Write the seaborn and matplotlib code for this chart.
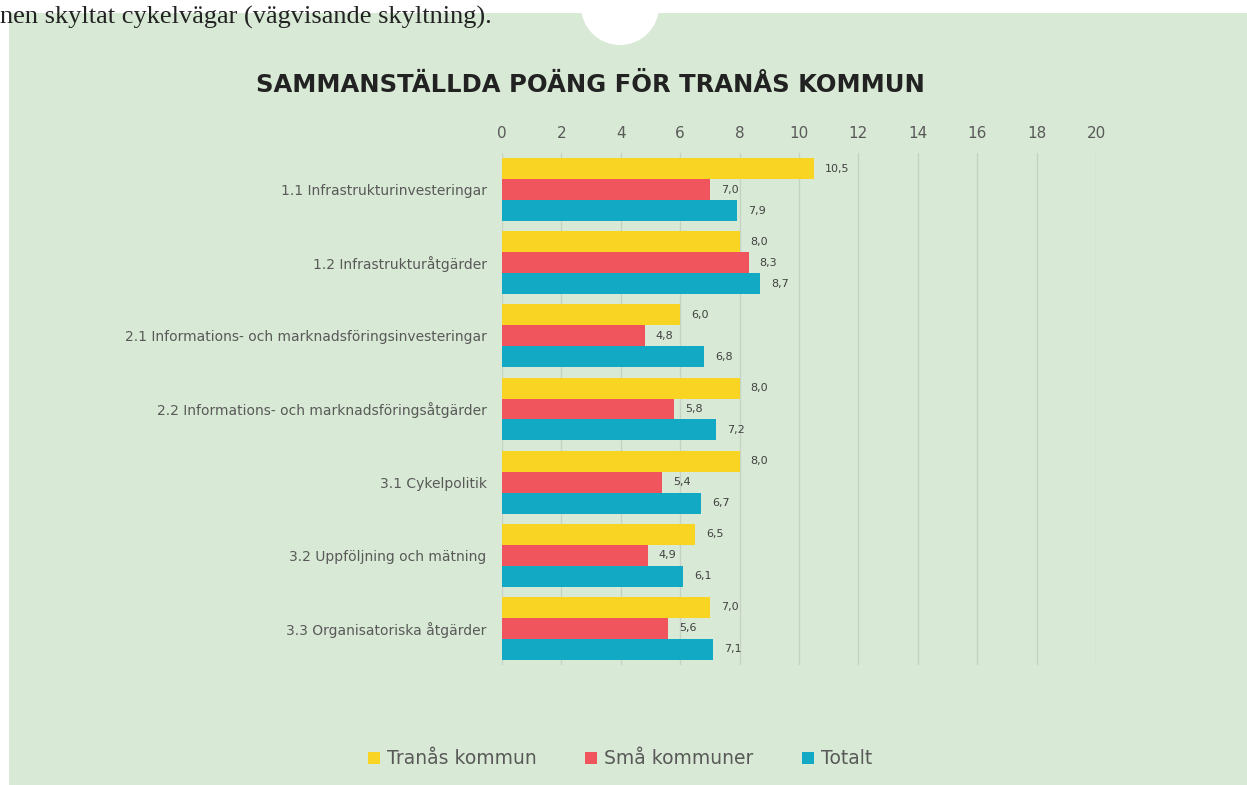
import pandas as pd
import matplotlib.pyplot as plt
import seaborn as sns
from matplotlib.patches import Rectangle, Circle

# data
categories = [
    "1.1 Infrastrukturinvesteringar",
    "1.2 Infrastrukturåtgärder",
    "2.1 Informations- och marknadsföringsinvesteringar",
    "2.2 Informations- och marknadsföringsåtgärder",
    "3.1 Cykelpolitik",
    "3.2 Uppföljning och mätning",
    "3.3 Organisatoriska åtgärder",
]
series = ["Tranås kommun", "Små kommuner", "Totalt"]
tranas = [10.5, 8.0, 6.0, 8.0, 8.0, 6.5, 7.0]
sma = [7.0, 8.3, 4.8, 5.8, 5.4, 4.9, 5.6]
totalt = [7.9, 8.7, 6.8, 7.2, 6.7, 6.1, 7.1]
x_ticks = list(range(0, 21, 2))

title = "SAMMANSTÄLLDA POÄNG FÖR TRANÅS KOMMUN"
intro = "nen skyltat cykelvägar (vägvisande skyltning)."

colors = ["#F9D423", "#F0555E", "#12A9C4"]
bg = "#D8EAD5"
txt = "#595959"

df = pd.DataFrame({
    "kategori": categories * 3,
    "serie": [s for s in series for _ in categories],
    "poang": tranas + sma + totalt,
})

sns.set_theme(style="white")
plt.rcParams["font.family"] = ["DejaVu Sans"]

fig = plt.figure(figsize=(12.47, 7.85), dpi=100)
fig.patch.set_facecolor("white")

# background layer in pixel coords: green panel + white circle cut at the top
bgax = fig.add_axes([0, 0, 1, 1], zorder=-10)
bgax.set_xlim(0, 1247)
bgax.set_ylim(785, 0)
bgax.axis("off")
bgax.add_patch(Rectangle((9, 13), 1247, 785, facecolor=bg, edgecolor="none"))
bgax.add_patch(Circle((620, 6), 39, facecolor="white", edgecolor="none"))
bgax.text(0, 24, intro, fontsize=19, family="Liberation Serif",
          color="#222222", ha="left", va="baseline")
bgax.text(590, 85, title, fontsize=17.5, fontweight="bold",
          color="#222222", ha="center", va="center")

ax = fig.add_axes([502 / 1247, 1 - 665 / 785, 594 / 1247, 512 / 785])
ax.patch.set_alpha(0)

sns.barplot(data=df, y="kategori", x="poang", hue="serie", order=categories,
            hue_order=series, palette=colors, orient="h", width=0.86,
            saturation=1, edgecolor="none", ax=ax, legend=False)

for cont in ax.containers:
    ax.bar_label(cont, labels=[f"{v:.1f}".replace(".", ",") for v in cont.datavalues],
                 padding=8, fontsize=8, color="#404040")

ax.set_xlim(0, 20)
ax.set_ylim(6.5, -0.5)
ax.set_xticks(x_ticks)
ax.xaxis.tick_top()
ax.tick_params(axis="x", length=0, pad=9, labelsize=11, labelcolor=txt)
ax.tick_params(axis="y", length=0, pad=11, labelsize=10, labelcolor=txt)
ax.grid(axis="x", color="#C8D1C6", linewidth=1)
ax.set_axisbelow(True)
for s in ax.spines.values():
    s.set_visible(False)
ax.set_xlabel("")
ax.set_ylabel("")

# legend at the bottom
handles = [Rectangle((0, 0), 1, 1, facecolor=c, edgecolor="none") for c in colors]
fig.legend(handles, series, loc="center", bbox_to_anchor=(620 / 1247, 1 - 759 / 785),
           ncol=3, frameon=False, fontsize=13.5, labelcolor=txt, handlelength=0.65,
           handleheight=0.65, handletextpad=0.35, columnspacing=2.6)

fig.savefig("out.png", dpi=100, facecolor=fig.get_facecolor())
